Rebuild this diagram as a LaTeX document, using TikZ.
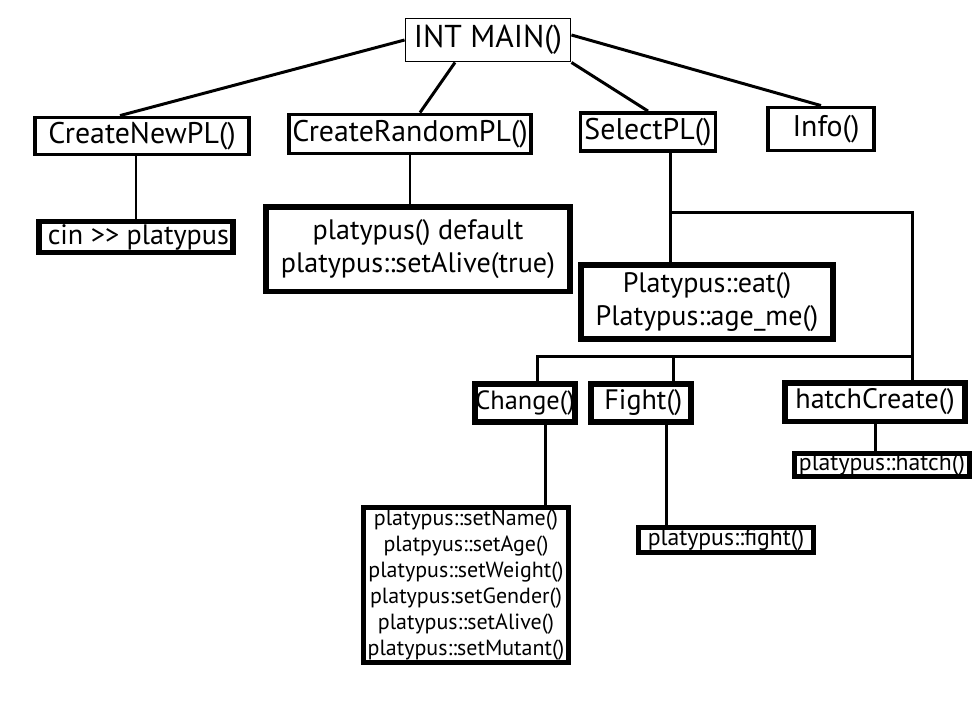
\documentclass[tikz,border=0pt]{standalone}
\usepackage{fontspec}
\setmainfont{PT Sans}
\usetikzlibrary{positioning}
\tikzset{
  plnode/.style={
    draw, rectangle, align=center, inner sep=1pt, fill=white
  },
  plroot/.style={plnode, line width=1.1pt, font=\fontsize{18}{21}\selectfont},
  plcall/.style={plnode, line width=2.2pt, font=\fontsize{17}{20}\selectfont},
  plleaf/.style={plnode, line width=3.4pt, font=\fontsize{16}{19}\selectfont},
  plsmall/.style={plleaf, line width=3pt, font=\fontsize{13.5}{16}\selectfont},
  link/.style={line width=1.7pt, black}
}

\begin{document}
\begin{tikzpicture}[x=0.02cm, y=-0.02cm]
  \useasboundingbox (0,0) rectangle (977,711);
  % Root and the four menu calls
  \node[plroot, minimum width=3.3cm, minimum height=0.86cm] (main) at (488,40) {INT MAIN()};
  \node[plcall, minimum width=4.28cm, minimum height=0.74cm] (newpl) at (142,136) {CreateNewPL()};
  \node[plcall, minimum width=4.84cm, minimum height=0.78cm] (randpl) at (410,134) {CreateRandomPL()};
  \node[plcall, minimum width=2.7cm, minimum height=0.76cm] (selpl) at (648,132) {SelectPL()};
  \node[plcall, minimum width=2.12cm, minimum height=0.86cm] (info) at (821,129) {\,\,Info()};
  % What each call does
  \node[plleaf, minimum width=3.88cm, minimum height=0.62cm] (cin) at (136,237) {\,cin >{}> platypus};
  \node[plleaf, minimum width=6.1cm, minimum height=1.7cm] (dflt) at (418,249) {platypus() default\\platypus::setAlive(true)};
  \node[plleaf, minimum width=5.04cm, minimum height=1.48cm] (eat) at (707,302) {Platypus::eat()\\Platypus::age\_me()};
  % Sub menu of SelectPL()
  \node[plleaf, minimum width=1.8cm, minimum height=0.76cm, inner sep=0pt, font=\fontsize{15}{18}\selectfont] (change) at (525,403) {Change()};
  \node[plleaf, minimum width=2.0cm, minimum height=0.76cm] (fight) at (641,403) {\,Fight()};
  \node[plleaf, minimum width=3.6cm, minimum height=0.78cm] (hatchc) at (875,402) {hatchCreate()};
  \node[plsmall, minimum width=3.5cm, minimum height=0.46cm, inner sep=0pt] (hatch) at (882,465) {platypus::hatch()};
  \node[plsmall, minimum width=3.5cm, minimum height=0.48cm] (pfight) at (726,540) {platypus::fight()};
  \node[plsmall, minimum width=4.1cm, minimum height=3.1cm, font=\fontsize{12.5}{14.8}\selectfont] (setters) at (466,585)
    {platypus::setName()\\platpyus::setAge()\\platypus::setWeight()\\platypus:setGender()\\platypus::setAlive()\\platypus::setMutant()};
  % Tap points for the vertical lines
  \coordinate (split) at (670,212);
  \coordinate (rail) at (912,356);
  \coordinate (railL) at (537,356);
  \coordinate (tapF) at (673,356);
  \coordinate (chg) at (545,0);
  \coordinate (fgt) at (666,0);
  % Root to menu calls
  \draw[link] (main.west) -- ([xshift=-0.44cm]newpl.north);
  \draw[link] ([xshift=-0.66cm]main.south) -- ([xshift=0.2cm]randpl.north);
  \draw[link] (main.south east) -- (selpl.north);
  \draw[link] ([yshift=0.1cm]main.east) -- (info.north);
  % Menu calls down to their work
  \draw[link] (cin.north |- newpl.south) -- (cin.north);
  \draw[link] (randpl.south) -- (randpl.south |- dflt.north);
  \draw[link] (selpl.south -| split) -- (split |- eat.north);
  \draw[link] (split) -- (split -| rail) -- (rail |- hatchc.north);
  \draw[link] (rail) -- (railL) -- (railL |- change.north);
  \draw[link] (tapF) -- (fight.north -| tapF);
  \draw[link] (change.south -| chg) -- (setters.north -| chg);
  \draw[link] (fight.south -| fgt) -- (pfight.north -| fgt);
  \draw[link] (hatchc.south) -- (hatchc.south |- hatch.north);
\end{tikzpicture}
\end{document}
